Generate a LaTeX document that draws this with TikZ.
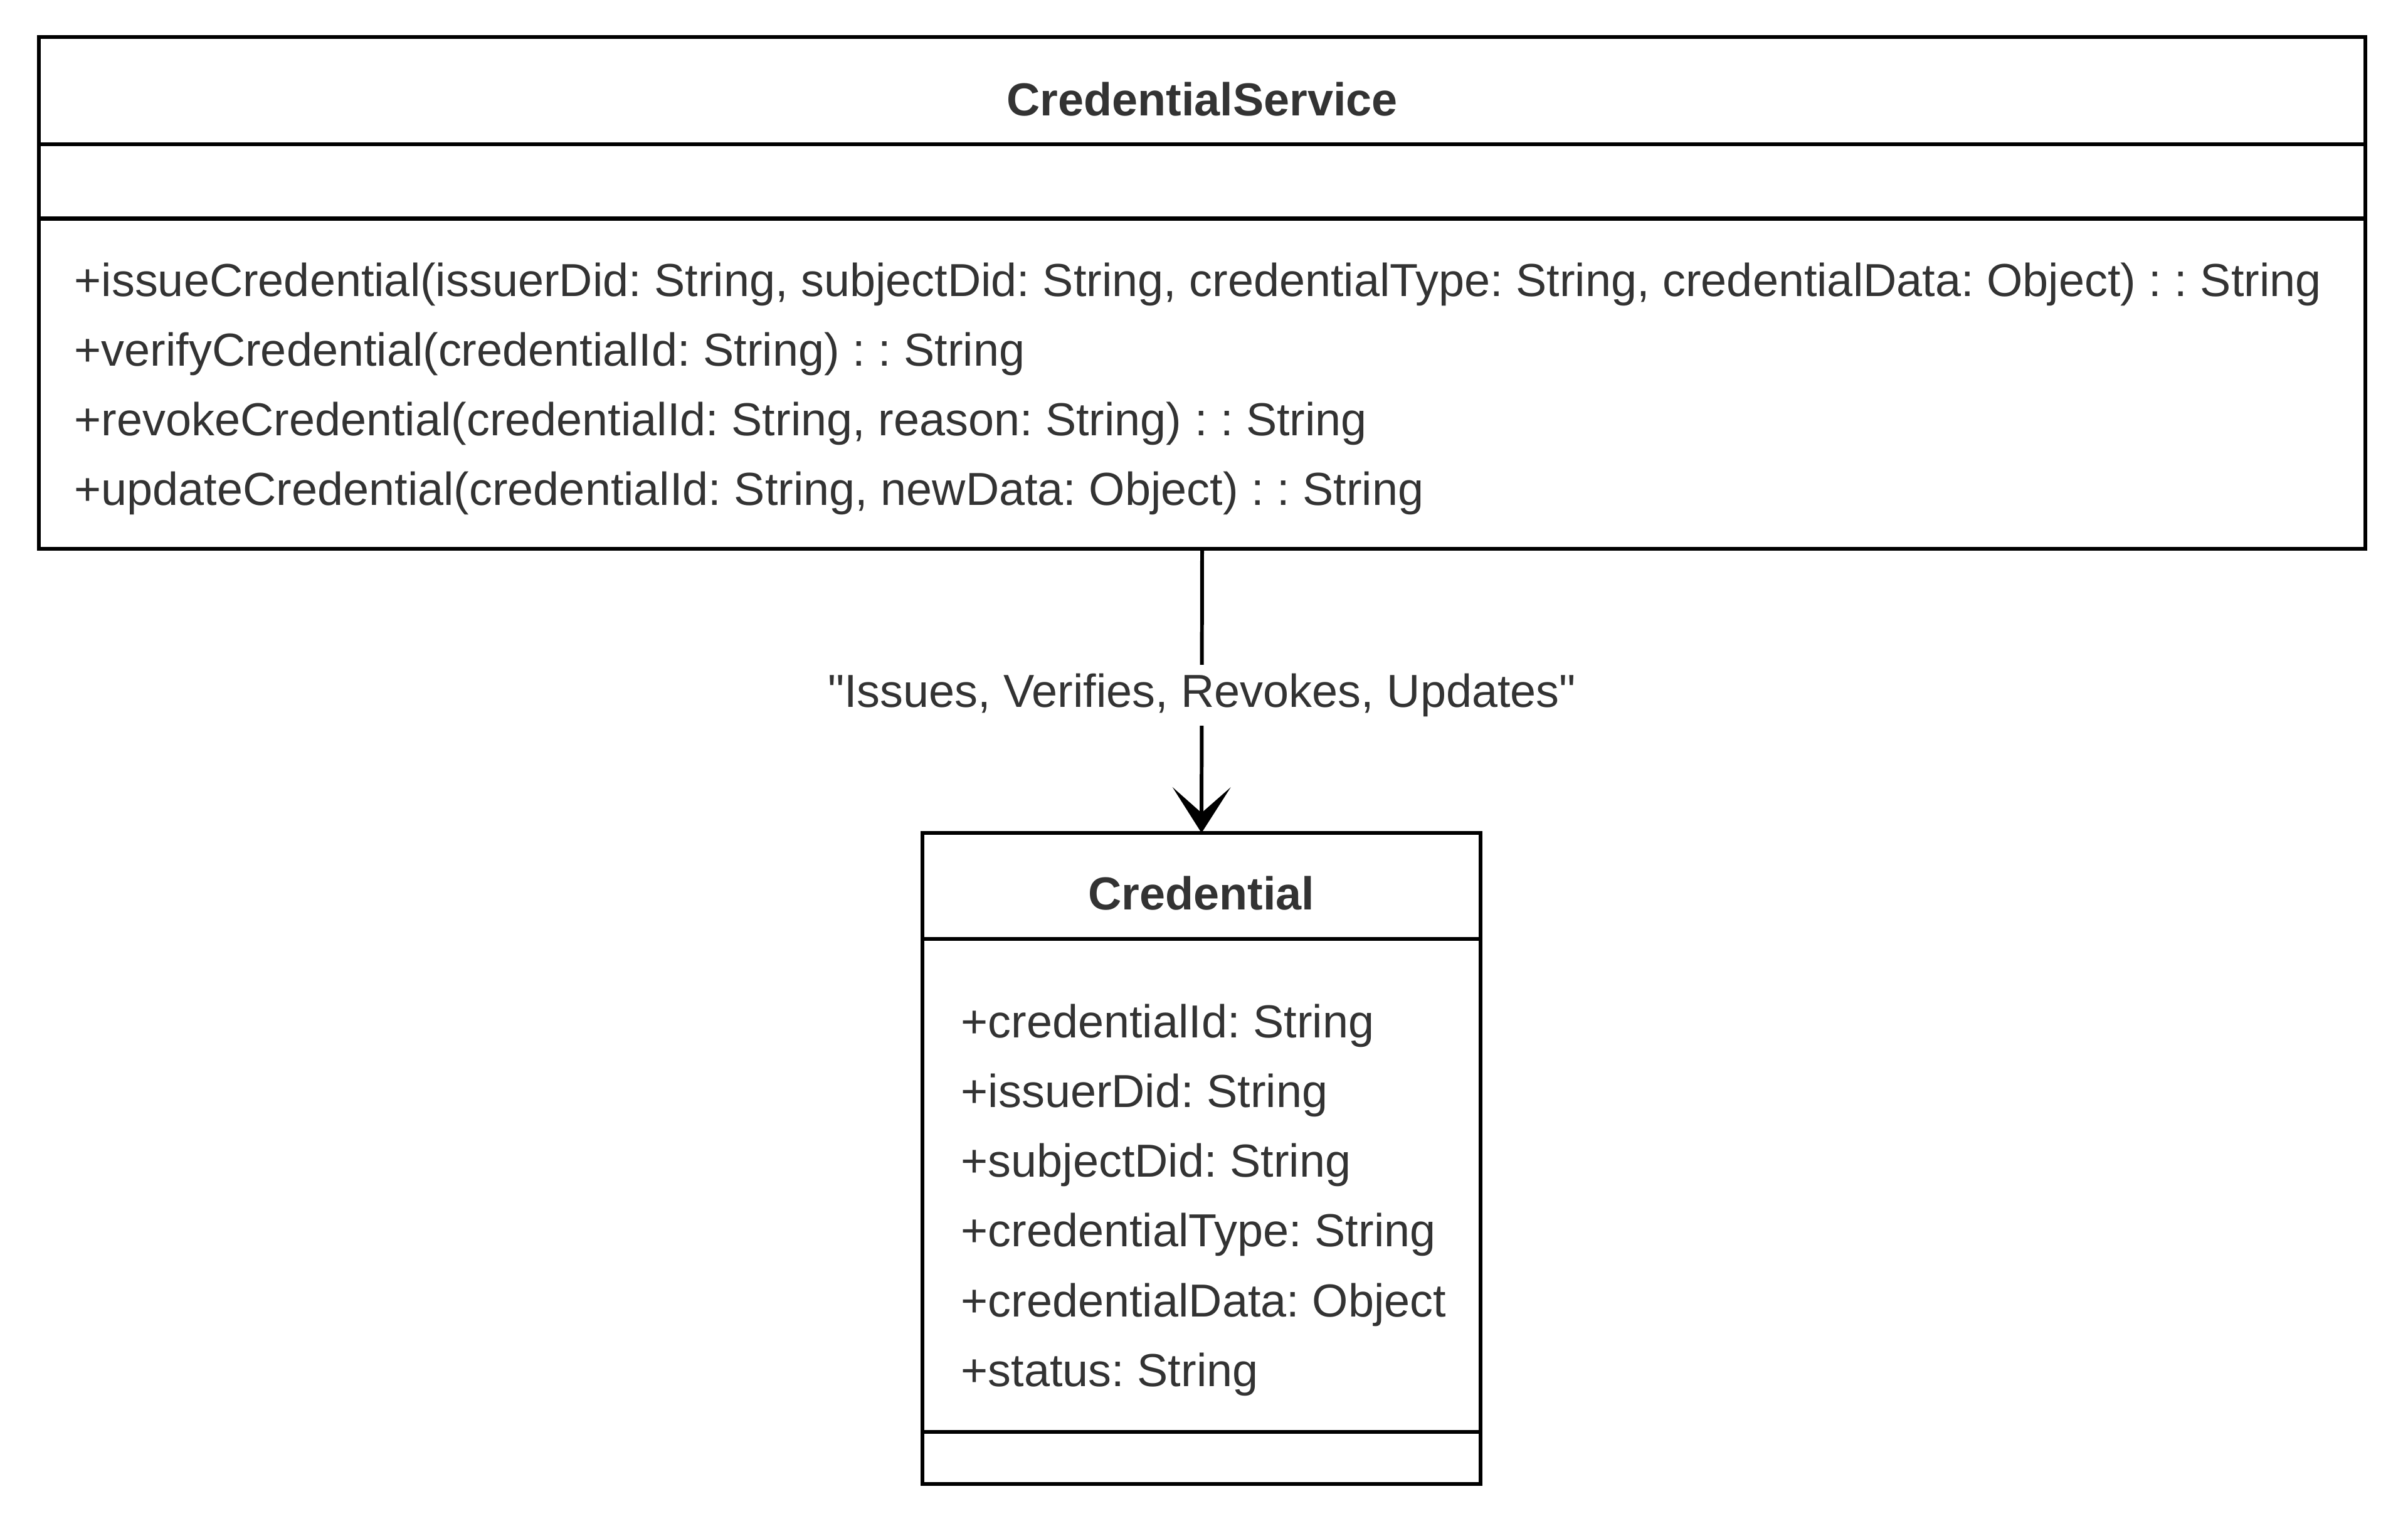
\documentclass[tikz,border=0pt]{standalone}
\usepackage{fontspec}
\setmainfont{Liberation Sans}
\usetikzlibrary{arrows.meta}
\definecolor{textgray}{HTML}{333333}
\frenchspacing

\begin{document}
\begin{tikzpicture}[
        box/.style={draw,line width=1.7pt,inner sep=0,outer sep=0},
        member/.style={anchor=base west,inner sep=0,text=textgray,font=\fontsize{21pt}{24pt}\selectfont},
        classname/.style={anchor=base,inner sep=0,text=textgray,font=\fontsize{21pt}{24pt}\selectfont\bfseries}
    ]
        \useasboundingbox (0,0) rectangle (38.4,-24.32);

        % CredentialService class
        \node (Stitle) at (19.17,-1.443) [box,minimum height=1.706cm,minimum width=37.10cm] {};
        \node (Sattr)  at (19.17,-2.890) [box,minimum height=1.189cm,minimum width=37.10cm] {};
        \node (Sops)   at (19.17,-6.115) [box,minimum height=5.260cm,minimum width=37.10cm] {};
        \node (Sname)  at (19.17,-1.84) [classname] {CredentialService};

        \foreach \t [count=\i from 0] in {
            {+issueCredential(issuerDid: String, subjectDid: String, credentialType: String, credentialData: Object) : : String},
            {+verifyCredential(credentialId: String) : : String},
            {+revokeCredential(credentialId: String, reason: String) : : String},
            {+updateCredential(credentialId: String, newData: Object) : : String}}
            \node (Sop\i) at (1.18,{-4.72-1.113*\i}) [member] {\t};

        % Credential class
        \node (Ctitle) at (19.16,-14.125) [box,minimum height=1.69cm,minimum width=8.90cm] {};
        \node (Cattr)  at (19.16,-18.900) [box,minimum height=7.86cm,minimum width=8.90cm] {};
        \node (Cops)   at (19.16,-23.245) [box,minimum height=0.83cm,minimum width=8.90cm] {};
        \node (Cname)  at (19.16,-14.50) [classname] {Credential};

        \foreach \t [count=\i from 0] in {
            {+credentialId: String},
            {+issuerDid: String},
            {+subjectDid: String},
            {+credentialType: String},
            {+credentialData: Object},
            {+status: String}}
            \node (Cattr\i) at (15.32,{-16.54-1.113*\i}) [member] {\t};

        % Association
        \draw[line width=1.7pt,-{Stealth[length=7.3mm,width=9.3mm,inset=4.1mm,line width=0pt]}]
            (Sops.south) -- node[pos=0.515,fill=white,inner sep=4pt,text=textgray,font=\fontsize{21pt}{24pt}\selectfont]
            {\textquotedbl Issues, Verifies, Revokes, Updates\textquotedbl} (Ctitle.north);
    \end{tikzpicture}
\end{document}
